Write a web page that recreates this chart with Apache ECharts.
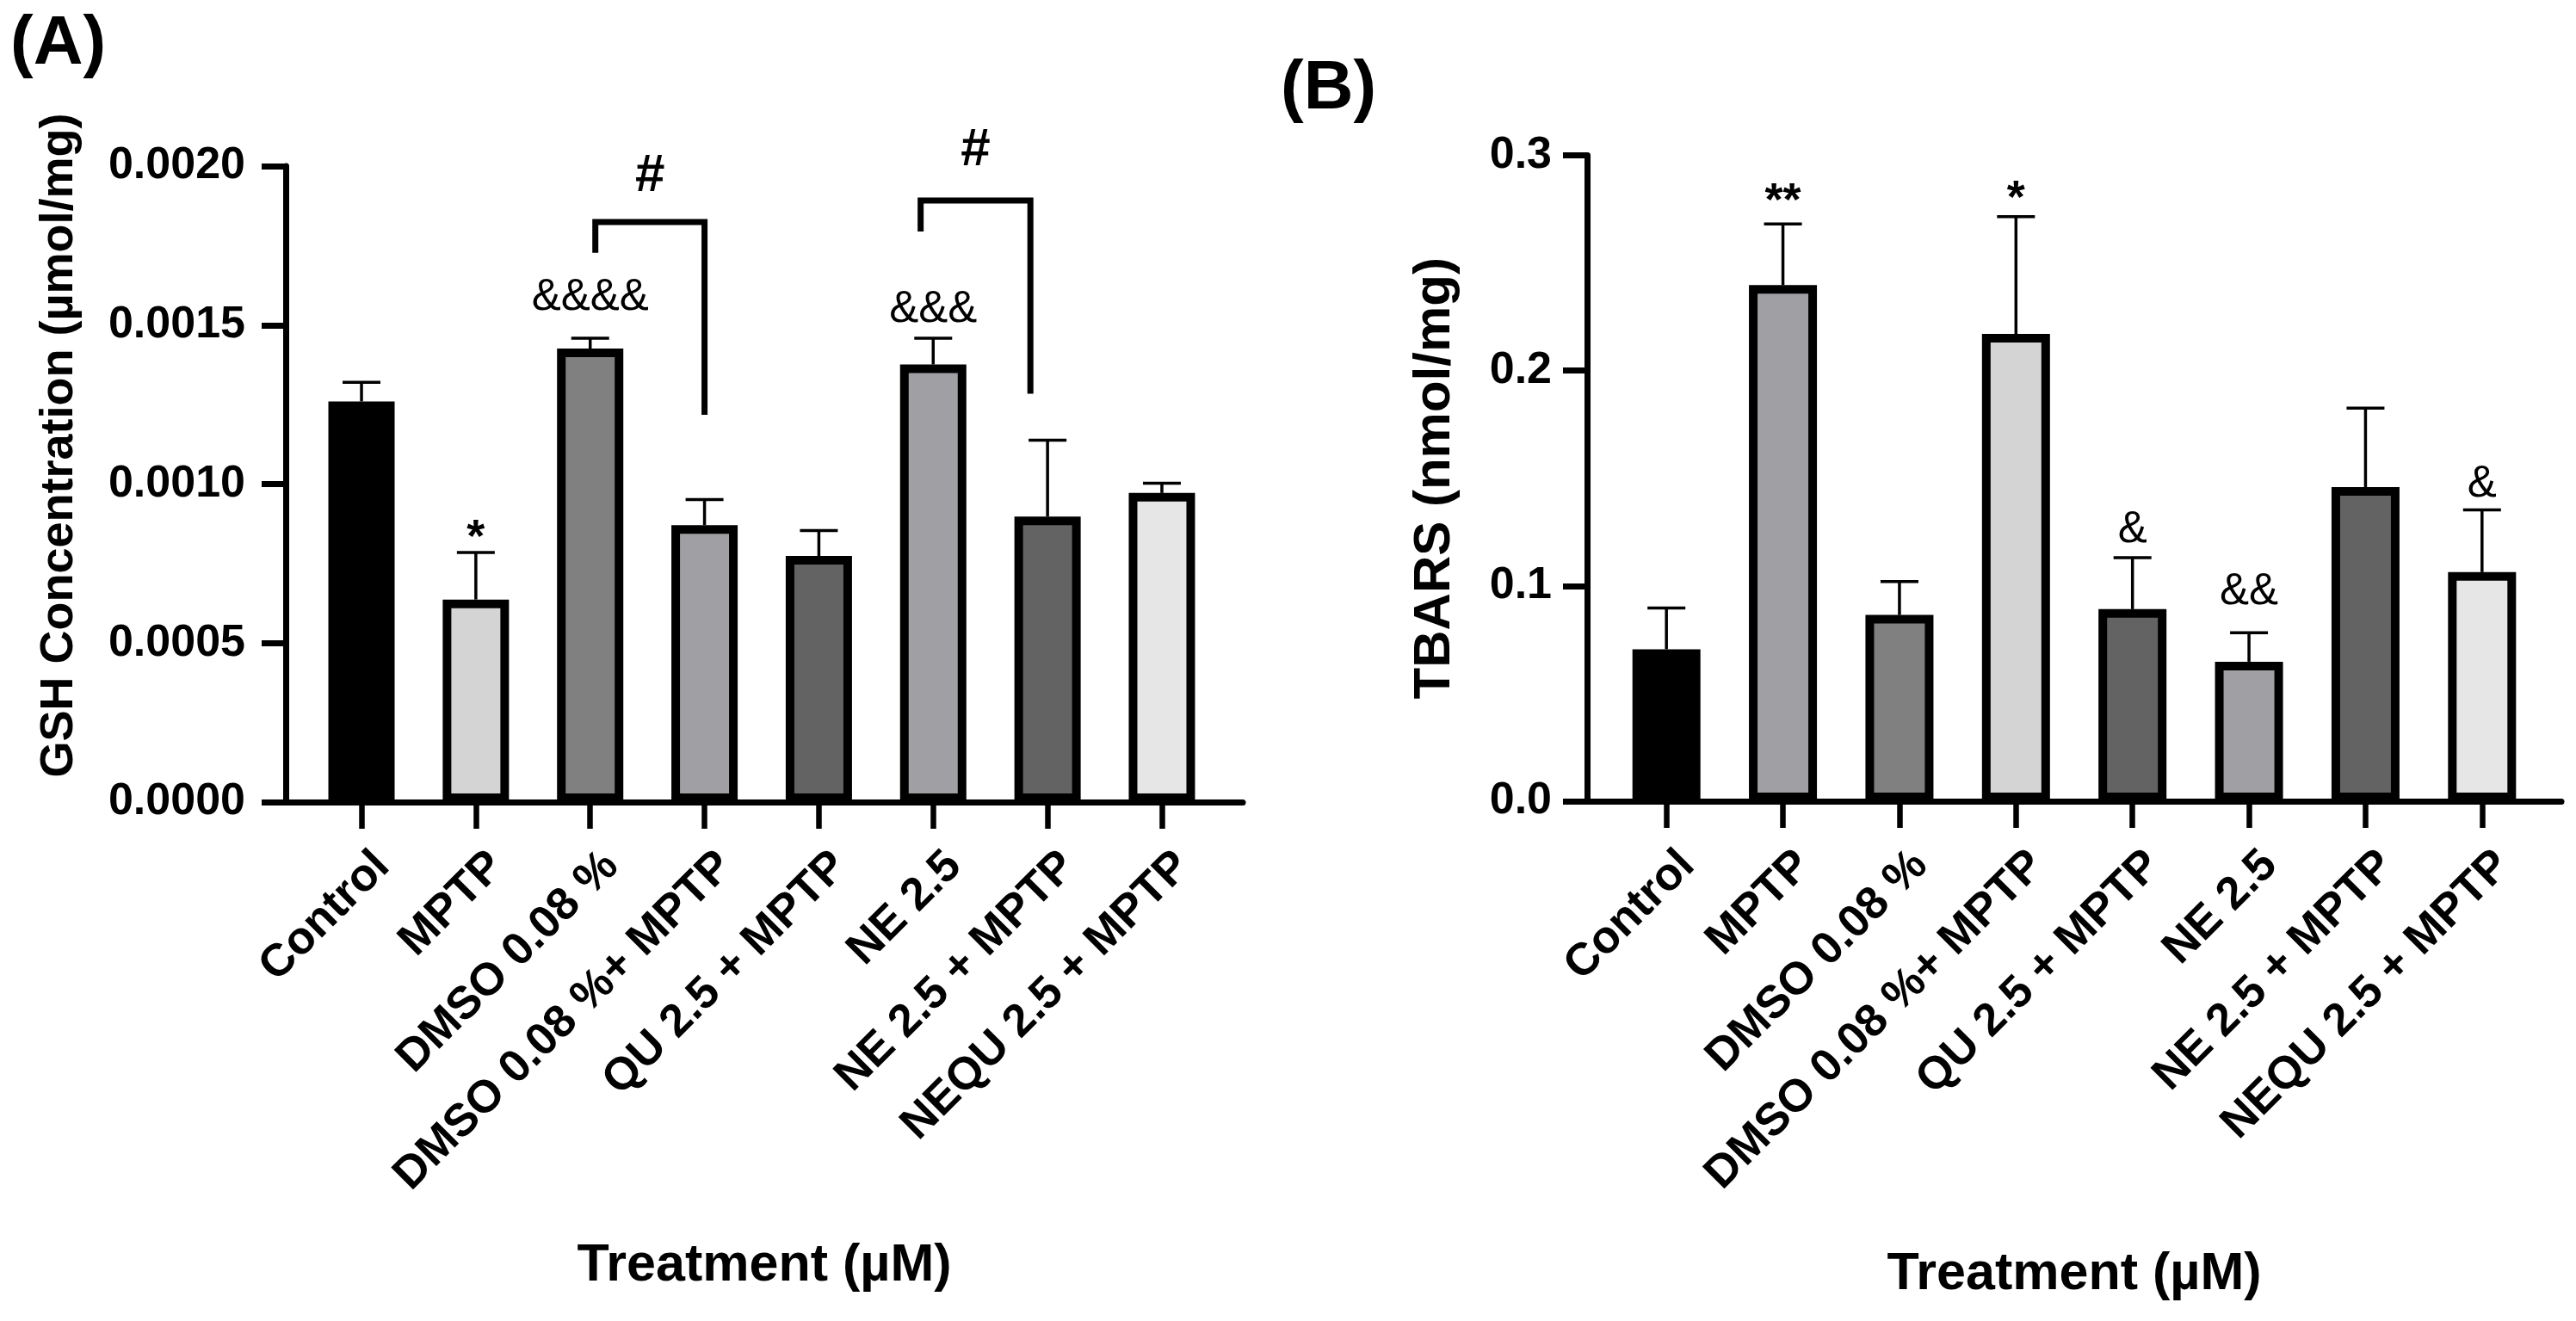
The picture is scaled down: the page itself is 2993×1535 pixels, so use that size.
<!DOCTYPE html>
<html>
<head>
<meta charset="utf-8">
<script src="https://cdn.jsdelivr.net/npm/echarts@6/dist/echarts.min.js"></script>
<style>
  html, body { margin: 0; padding: 0; background: #fff; }
  #chart { width: 2993px; height: 1535px; }
</style>
</head>
<body>
<div id="chart"></div>
<script>
const categories = [
  "Control",
  "MPTP",
  "DMSO 0.08 %",
  "DMSO 0.08 %+ MPTP",
  "QU 2.5 + MPTP",
  "NE 2.5",
  "NE 2.5 + MPTP",
  "NEQU 2.5 + MPTP",
];

// panel A: GSH (µmol/mg)
const gshMean = [0.00126, 0.000637, 0.001426, 0.000871, 0.000774, 0.001376, 0.000898, 0.000972];
const gshSem = [0.00006, 0.000148, 0.000033, 0.00008, 0.00008, 0.000083, 0.00024, 0.000031];
const gshColors = ["#000000", "#d4d4d4", "#808080", "#a0a0a4", "#636363", "#a0a0a4", "#636363", "#e6e6e6"];
// [category, y value, text]
const gshMarks = [[1, 0.000854, "*"], [2, 0.001585, "&&&&"], [5, 0.001547, "&&&"]];
// [from pos, to pos, top, left end, right end, label y]
const gshBrackets = [
  [2.045, 3.0, 0.001824, 0.001727, 0.001218, 0.001969],
  [4.89, 5.85, 0.001892, 0.001794, 0.001284, 0.002048],
];

// panel B: TBARS (nmol/mg)
const tbarsMean = [0.0706, 0.2397, 0.0865, 0.2171, 0.0892, 0.0648, 0.1459, 0.1064];
const tbarsSem = [0.0191, 0.0284, 0.0155, 0.0544, 0.0239, 0.0134, 0.0367, 0.0289];
const tbarsColors = ["#000000", "#a0a0a4", "#808080", "#d4d4d4", "#636363", "#a0a0a4", "#636363", "#e6e6e6"];
const tbarsMarks = [[1, 0.2822, "**"], [3, 0.2834, "*"], [4, 0.1259, "&"], [5, 0.0970, "&&"], [7, 0.1470, "&"]];

const FONT = '"Liberation Sans", Arial, sans-serif';
const BLACK = "#000";

const errorItem = (params, api) => {
  const i = api.value(0);
  const base = api.coord([i, api.value(1)]);
  const top = api.coord([i, api.value(1) + api.value(2)]);
  const half = 22;
  const style = { stroke: BLACK, lineWidth: 3.5 };
  return {
    type: "group",
    children: [
      { type: "line", shape: { x1: base[0], y1: base[1], x2: top[0], y2: top[1] }, style },
      { type: "line", shape: { x1: top[0] - half, y1: top[1], x2: top[0] + half, y2: top[1] }, style },
    ],
  };
};

const markItem = (marks) => (params, api) => {
  const m = marks[params.dataIndex];
  const p = api.coord([m[0], m[1]]);
  const star = m[2].indexOf("*") >= 0;
  return {
    type: "text",
    x: p[0],
    y: p[1] + (star ? 10 : 0),
    style: {
      text: m[2],
      fill: BLACK,
      fontFamily: FONT,
      fontSize: star ? 54 : 51,
      fontWeight: star ? "bold" : "normal",
      align: "center",
      verticalAlign: "middle",
    },
  };
};

const bracketItem = (brackets) => (params, api) => {
  const b = brackets[params.dataIndex];
  const x0 = api.coord([0, 0])[0];
  const band = api.size([1, 0])[0];
  const xl = x0 + b[0] * band;
  const xr = x0 + b[1] * band;
  const yTop = api.coord([0, b[2]])[1];
  const yL = api.coord([0, b[3]])[1];
  const yR = api.coord([0, b[4]])[1];
  const yHash = api.coord([0, b[5]])[1];
  return {
    type: "group",
    children: [
      {
        type: "polyline",
        shape: { points: [[xl, yL], [xl, yTop], [xr, yTop], [xr, yR]] },
        style: { stroke: BLACK, lineWidth: 7, fill: null, lineJoin: "miter" },
      },
      {
        type: "text",
        x: (xl + xr) / 2,
        y: yHash,
        style: {
          text: "#",
          fill: BLACK,
          fontFamily: FONT,
          fontSize: 62,
          fontWeight: "bold",
          align: "center",
          verticalAlign: "middle",
        },
      },
    ],
  };
};

const frameX = (gap) => ({
  type: "value",
  min: 0,
  max: 1,
  axisLine: { show: true, lineStyle: { color: BLACK, width: 7 } },
  axisTick: { show: false },
  axisLabel: { show: false },
  splitLine: { show: false },
  name: "Treatment (µM)",
  nameLocation: "middle",
  nameGap: gap,
  nameTextStyle: { color: BLACK, fontFamily: FONT, fontSize: 61, fontWeight: "bold" },
});

const frameY = (cfg) => ({
  type: "value",
  min: 0,
  max: cfg.max,
  interval: cfg.interval,
  axisLine: { show: true, lineStyle: { color: BLACK, width: 7 } },
  axisTick: { show: true, length: 28, lineStyle: { color: BLACK, width: 7 } },
  axisLabel: {
    color: BLACK,
    fontFamily: FONT,
    fontSize: 52,
    fontWeight: "bold",
    margin: cfg.margin,
    formatter: (v) => v.toFixed(cfg.digits),
  },
  splitLine: { show: false },
  name: cfg.name,
  nameLocation: "middle",
  nameRotate: 90,
  nameGap: cfg.nameGap,
  nameTextStyle: {
    color: BLACK,
    fontFamily: FONT,
    fontSize: cfg.nameSize,
    fontWeight: "bold",
    padding: cfg.namePadding,
  },
});

const barX = () => ({
  type: "category",
  data: categories,
  axisLine: { show: false },
  axisTick: { show: true, alignWithLabel: true, length: 31, lineStyle: { color: BLACK, width: 6.5 } },
  axisLabel: {
    interval: 0,
    rotate: 45,
    color: BLACK,
    fontFamily: FONT,
    fontSize: 53,
    fontWeight: "bold",
    margin: 42,
    verticalAlign: "top",
    padding: [8, 0, 0, 0],
  },
  splitLine: { show: false },
});

const barY = (max) => ({ type: "value", min: 0, max: max, show: false });

const option = {
  backgroundColor: "#fff",
  animation: false,
  grid: [
    { left: 332, top: 193, width: 1112, height: 739 },
    { left: 353.6, top: 193, width: 1062.8, height: 739 },
    { left: 1844, top: 180.5, width: 1132, height: 750.5 },
    { left: 1868.5, top: 180.5, width: 1083, height: 750.5 },
  ],
  xAxis: [
    Object.assign(frameX(509), { gridIndex: 0 }),
    Object.assign(barX(), { gridIndex: 1 }),
    Object.assign(frameX(520), { gridIndex: 2 }),
    Object.assign(barX(), { gridIndex: 3 }),
  ],
  yAxis: [
    Object.assign(frameY({
      max: 0.002, interval: 0.0005, digits: 4, margin: 47,
      name: "GSH Concentration (µmol/mg)", nameGap: 236, nameSize: 54, namePadding: [0, 0, 0, 90],
    }), { gridIndex: 0 }),
    Object.assign(barY(0.002), { gridIndex: 1 }),
    Object.assign(frameY({
      max: 0.3, interval: 0.1, digits: 1, margin: 41,
      name: "TBARS (nmol/mg)", nameGap: 147, nameSize: 60, namePadding: 0,
    }), { gridIndex: 2 }),
    Object.assign(barY(0.3), { gridIndex: 3 }),
  ],
  graphic: [
    { type: "text", x: 12, y: 52, style: { text: "(A)", fill: BLACK, fontFamily: FONT, fontSize: 80, fontWeight: "bold", verticalAlign: "middle" } },
    { type: "text", x: 1488, y: 104, style: { text: "(B)", fill: BLACK, fontFamily: FONT, fontSize: 80, fontWeight: "bold", verticalAlign: "middle" } },
  ],
  series: [
    {
      type: "bar",
      xAxisIndex: 1,
      yAxisIndex: 1,
      barWidth: 77,
      data: gshMean.map((v, i) => ({ value: v, itemStyle: { color: gshColors[i] } })),
      itemStyle: { borderColor: BLACK, borderWidth: 10 },
      z: 2,
    },
    {
      type: "custom",
      xAxisIndex: 1,
      yAxisIndex: 1,
      renderItem: errorItem,
      data: gshMean.map((v, i) => [i, v, gshSem[i]]),
      z: 3,
    },
    {
      type: "custom",
      xAxisIndex: 1,
      yAxisIndex: 1,
      renderItem: markItem(gshMarks),
      data: gshMarks.map((m) => [m[0], m[1]]),
      clip: false,
      z: 4,
    },
    {
      type: "custom",
      xAxisIndex: 1,
      yAxisIndex: 1,
      renderItem: bracketItem(gshBrackets),
      data: gshBrackets.map((b) => [Math.round(b[0]), b[2]]),
      clip: false,
      z: 4,
    },
    {
      type: "bar",
      xAxisIndex: 3,
      yAxisIndex: 3,
      barWidth: 79,
      data: tbarsMean.map((v, i) => ({ value: v, itemStyle: { color: tbarsColors[i] } })),
      itemStyle: { borderColor: BLACK, borderWidth: 10 },
      z: 2,
    },
    {
      type: "custom",
      xAxisIndex: 3,
      yAxisIndex: 3,
      renderItem: errorItem,
      data: tbarsMean.map((v, i) => [i, v, tbarsSem[i]]),
      z: 3,
    },
    {
      type: "custom",
      xAxisIndex: 3,
      yAxisIndex: 3,
      renderItem: markItem(tbarsMarks),
      data: tbarsMarks.map((m) => [m[0], m[1]]),
      clip: false,
      z: 4,
    },
  ],
};

const chart = echarts.init(document.getElementById("chart"), null, { renderer: "canvas" });
chart.setOption(option);
window.addEventListener("resize", () => chart.resize());
</script>
</body>
</html>
